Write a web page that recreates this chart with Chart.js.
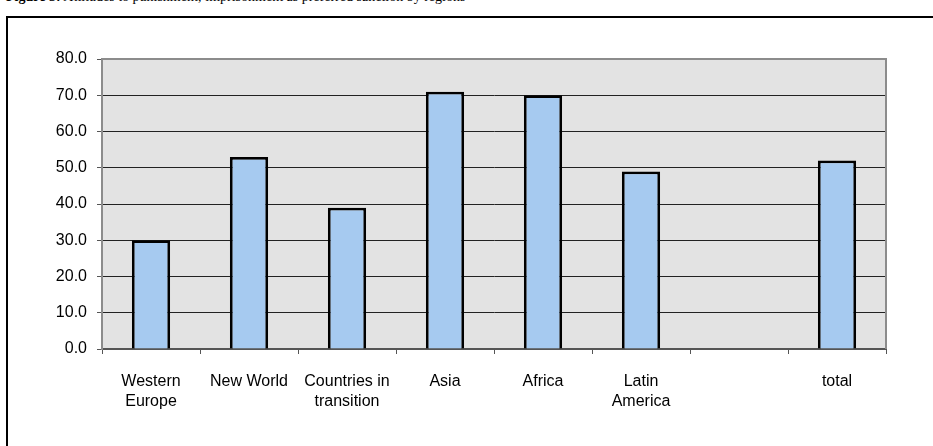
<!DOCTYPE html>
<html>
<head>
<meta charset="utf-8">
<script src="https://cdn.jsdelivr.net/npm/chart.js@4.4.1/dist/chart.umd.min.js"></script>
<style>
  html, body { margin:0; padding:0; background:#fff; width:933px; height:446px; overflow:hidden; }
  #title { position:absolute; left:6px; top:-10px; font-family:"Liberation Serif","Times New Roman",serif; font-size:14px; line-height:14px; white-space:nowrap; color:#000; }
  #frame { position:absolute; left:6px; top:16px; width:1000px; height:600px; border:2px solid #000; box-sizing:border-box; }
  #wrap { position:absolute; left:0; top:0; width:933px; height:446px; }
</style>
</head>
<body>
<div id="title"><b>Figure 3:</b> Attitudes to punishment; imprisonment as preferred sanction by regions</div>
<div id="frame"></div>
<div id="wrap"><canvas id="c" width="933" height="446"></canvas></div>
<script>
const categories = [["Western","Europe"], "New World", ["Countries in","transition"], "Asia", "Africa", ["Latin","America"], "", "total"];
const values = [30, 53, 39, 71, 70, 49, null, 52];
const yTicks = [0, 10, 20, 30, 40, 50, 60, 70, 80];

const plotBg = {
  id: 'plotBg',
  beforeDraw(chart) {
    const {ctx, chartArea:a} = chart;
    ctx.save();
    ctx.fillStyle = '#e3e3e3';
    ctx.fillRect(a.left, a.top, a.right - a.left, a.bottom - a.top);
    ctx.restore();
  },
  afterDatasetsDraw(chart) {
    const {ctx, chartArea:a} = chart;
    ctx.save();
    ctx.strokeStyle = '#8c8c8c';
    ctx.lineWidth = 2;
    ctx.beginPath();
    ctx.moveTo(a.left, a.top);
    ctx.lineTo(a.right, a.top);
    ctx.lineTo(a.right, a.bottom);
    ctx.stroke();
    ctx.restore();
  }
};

const tickFont = { family: 'Liberation Sans, Arial', size: 16, lineHeight: '20px' };

new Chart(document.getElementById('c'), {
  type: 'bar',
  data: {
    labels: categories,
    datasets: [{
      data: values,
      backgroundColor: '#a6caf0',
      borderColor: '#000',
      borderWidth: 2.8,
      categoryPercentage: 1,
      barPercentage: 0.39
    }]
  },
  options: {
    responsive: false,
    animation: false,
    devicePixelRatio: 1,
    layout: { padding: { left: 0, right: 47, top: 59, bottom: 0 } },
    plugins: { legend: { display: false }, tooltip: { enabled: false }, title: { display: false } },
    scales: {
      x: {
        offset: true,
        afterFit(s) { s.height = 97; },
        grid: { offset: true, drawOnChartArea: false, drawTicks: true, tickLength: 5, color: '#555', lineWidth: 1 },
        border: { display: true, color: '#555', width: 2 },
        ticks: { color: '#000', font: tickFont, padding: 18, maxRotation: 0, autoSkip: false }
      },
      y: {
        min: 0, max: 80,
        afterFit(s) { s.width = 102; },
        afterBuildTicks(s) { s.ticks = yTicks.map(v => ({ value: v })); },
        grid: {
          drawTicks: true, tickLength: 5,
          color: (c) => (c.tick && (c.tick.value === 0 || c.tick.value === 80)) ? 'rgba(0,0,0,0)' : '#222',
          tickColor: '#555',
          borderDash: [4, 2],
          tickBorderDash: [],
          lineWidth: 1
        },
        border: { display: true, color: '#8c8c8c', width: 2 },
        ticks: { color: '#000', font: tickFont, padding: 10, callback: (v) => Number(v).toFixed(1) }
      }
    }
  },
  plugins: [plotBg]
});
</script>
</body>
</html>
